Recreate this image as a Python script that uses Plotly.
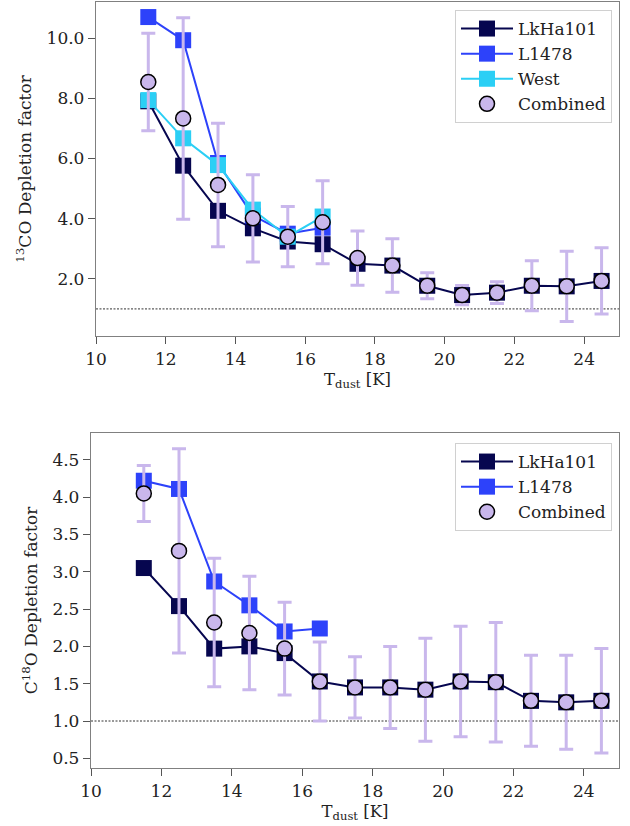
import plotly.graph_objects as go

# ---- data ----
T_all = [11.5, 12.5, 13.5, 14.5, 15.5, 16.5, 17.5, 18.5, 19.5, 20.5, 21.5, 22.5, 23.5, 24.5]
T_short = [11.5, 12.5, 13.5, 14.5, 15.5, 16.5]

# 13CO panel
co13_lkha = [7.90, 5.76, 4.26, 3.68, 3.24, 3.15, 2.50, 2.44, 1.77, 1.46, 1.54, 1.77, 1.75, 1.93]
co13_l1478 = [10.70, 9.93, 5.85, 4.10, 3.50, 3.70]
co13_west = [7.94, 6.67, 5.78, 4.30, 3.40, 4.07]
co13_comb = [8.54, 7.33, 5.12, 4.01, 3.40, 3.88, 2.69, 2.44, 1.77, 1.46, 1.54, 1.77, 1.75, 1.93]
co13_comb_err = [1.62, 3.35, 2.05, 1.45, 1.00, 1.38, 0.90, 0.89, 0.43, 0.32, 0.36, 0.83, 1.17, 1.10]

# C18O panel
c18o_lkha = [3.05, 2.54, 1.97, 2.00, 1.91, 1.53, 1.45, 1.45, 1.42, 1.53, 1.52, 1.27, 1.25, 1.27]
c18o_l1478 = [4.22, 4.11, 2.87, 2.55, 2.20, 2.24]
c18o_comb = [4.05, 3.28, 2.32, 2.18, 1.97, 1.53, 1.45, 1.45, 1.42, 1.53, 1.52, 1.27, 1.25, 1.27]
c18o_comb_err = [0.375, 1.37, 0.86, 0.76, 0.62, 0.53, 0.41, 0.55, 0.69, 0.74, 0.80, 0.61, 0.63, 0.70]

x_ticks = [10, 12, 14, 16, 18, 20, 22, 24]
co13_yticks = [2, 4, 6, 8, 10]
c18o_yticks = [0.5, 1.0, 1.5, 2.0, 2.5, 3.0, 3.5, 4.0, 4.5]

# ---- style ----
C_LKHA = "#06064f"
C_L1478 = "#2d42fa"
C_WEST = "#2bcff5"
C_COMB = "#c9b7ec"
FONT = "DejaVu Serif, serif"
FS = 17

fig = go.Figure()

def add_series(x, y, name, color, xa, ya, legend, showlegend=True):
    fig.add_trace(go.Scatter(
        x=x, y=y, name=name, mode="lines+markers",
        line=dict(color=color, width=2),
        marker=dict(symbol="square", size=16, color=color),
        xaxis=xa, yaxis=ya, legend=legend, showlegend=showlegend))

def add_comb(x, y, err, xa, ya, legend):
    fig.add_trace(go.Scatter(
        x=x, y=y, name="Combined", mode="markers",
        marker=dict(symbol="circle", size=15, color=C_COMB,
                    line=dict(color="black", width=1.5)),
        error_y=dict(type="data", array=err, visible=True, color=C_COMB,
                     thickness=3, width=7),
        xaxis=xa, yaxis=ya, legend=legend))

# top panel
add_series(T_all, co13_lkha, "LkHa101", C_LKHA, "x", "y", "legend")
add_series(T_short, co13_l1478, "L1478", C_L1478, "x", "y", "legend")
add_series(T_short, co13_west, "West", C_WEST, "x", "y", "legend")
add_comb(T_all, co13_comb, co13_comb_err, "x", "y", "legend")

# bottom panel
add_series(T_all, c18o_lkha, "LkHa101", C_LKHA, "x2", "y2", "legend2")
add_series(T_short, c18o_l1478, "L1478", C_L1478, "x2", "y2", "legend2")
add_comb(T_all, c18o_comb, c18o_comb_err, "x2", "y2", "legend2")

# layout geometry (pixels)
W, H = 630, 826
ML, MR, MT, MB = 91, 11, 2, 58
PW = W - ML - MR
PH = H - MT - MB

def px_to_x(px):
    return (px - ML) / PW

def py_to_y(py):
    return (H - MB - py) / PH

axis_common = dict(
    showline=True, linecolor="#808080", linewidth=1.3, mirror=True,
    ticks="outside", ticklen=7, tickwidth=1.3, tickcolor="#555555",
    showgrid=False, zeroline=False, automargin=False,
    tickfont=dict(family=FONT, size=FS, color="#222222"),
)

fig.update_layout(
    width=W, height=H,
    margin=dict(l=ML, r=MR, t=MT, b=MB),
    paper_bgcolor="white", plot_bgcolor="white",
    font=dict(family=FONT, size=FS, color="#222222"),
    xaxis=dict(domain=[px_to_x(96), 1], range=[10, 25], tickvals=x_ticks,
               title=dict(text="T<sub>dust</sub> [K]", font=dict(family=FONT, size=16.5), standoff=5),
               anchor="y", **axis_common),
    yaxis=dict(domain=[py_to_y(336), py_to_y(2)], range=[0.1, 11.2],
               tickvals=co13_yticks, tickformat=".1f",
               title=dict(text="<sup>13</sup>CO Depletion factor", font=dict(family=FONT, size=17), standoff=10),
               anchor="x", **axis_common),
    xaxis2=dict(domain=[0, 1], range=[10, 25], tickvals=x_ticks,
                title=dict(text="T<sub>dust</sub> [K]", font=dict(family=FONT, size=16.5), standoff=5),
                anchor="y2", **axis_common),
    yaxis2=dict(domain=[0, py_to_y(433)], range=[0.37, 4.86],
                tickvals=c18o_yticks, tickformat=".1f",
                title=dict(text="C<sup>18</sup>O Depletion factor", font=dict(family=FONT, size=17), standoff=10),
                anchor="x2", **axis_common),
    legend=dict(x=px_to_x(612), y=py_to_y(10), xanchor="right", yanchor="top",
                bgcolor="white", bordercolor="#d0d0d0", borderwidth=1,
                font=dict(family=FONT, size=FS), itemwidth=52),
    legend2=dict(x=px_to_x(612), y=py_to_y(443), xanchor="right", yanchor="top",
                 bgcolor="white", bordercolor="#d0d0d0", borderwidth=1,
                 font=dict(family=FONT, size=FS), itemwidth=52),
    showlegend=True,
)

# horizontal reference lines at 1
for xr, yr in (("x", "y"), ("x2", "y2")):
    fig.add_shape(type="line", xref=xr + " domain", yref=yr, x0=0, x1=1, y0=1, y1=1,
                  line=dict(color="#333333", width=1, dash="2px,1.5px"), layer="below")

fig.write_html("out.html")
